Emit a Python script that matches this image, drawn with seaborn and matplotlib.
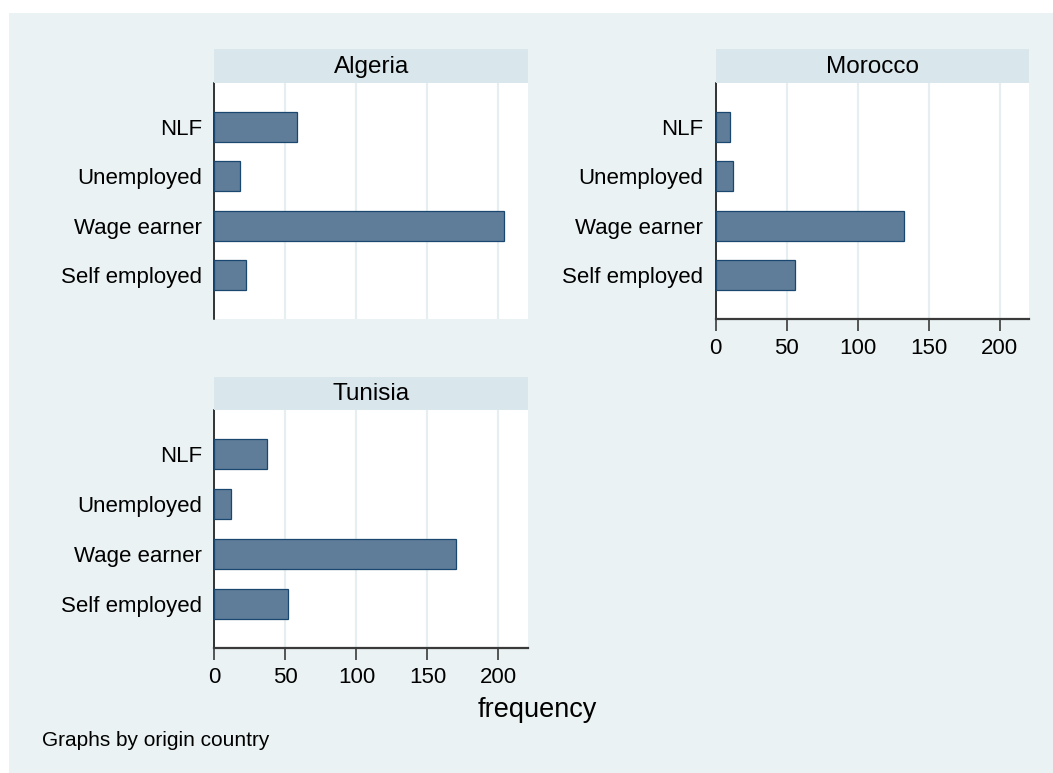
import matplotlib
matplotlib.use("Agg")
import matplotlib.pyplot as plt
import seaborn as sns
import pandas as pd
from matplotlib.patches import Rectangle

# ---- data ----
categories = ["NLF", "Unemployed", "Wage earner", "Self employed"]
countries = ["Algeria", "Morocco", "Tunisia"]
algeria = [58, 18, 204, 22]
morocco = [10, 12, 133, 56]
tunisia = [37, 12, 170, 52]
xticks = [0, 50, 100, 150, 200]

rows = []
for c, vals in zip(countries, [algeria, morocco, tunisia]):
    for cat, v in zip(categories, vals):
        rows.append({"country": c, "status": cat, "frequency": v})
df = pd.DataFrame(rows)

sns.set_theme(style="white")
plt.rcParams["font.family"] = ["Liberation Sans", "DejaVu Sans"]

W, H = 1053, 773
fig = plt.figure(figsize=(W / 100, H / 100), dpi=100)
fig.patch.set_facecolor("white")

BG = "#eaf2f3"
STRIP = "#d9e6eb"
FILL = "#5f7d99"
EDGE = "#1a476f"
GRID = "#e6eef1"

fig.patches.append(Rectangle((9 / W, 0), 1 - 9 / W, 1 - 13 / H,
                             transform=fig.transFigure, facecolor=BG,
                             edgecolor="none", zorder=-10))


def px_axes(x0, y0, x1, y1):
    return fig.add_axes([x0 / W, 1 - y1 / H, (x1 - x0) / W, (y1 - y0) / H])


panels = {
    "Algeria": dict(x0=214.3, x1=528.3, strip=(49, 83), plot=(83, 319), xaxis=False),
    "Morocco": dict(x0=715.7, x1=1029.3, strip=(49, 83), plot=(83, 319), xaxis=True),
    "Tunisia": dict(x0=214.3, x1=528.3, strip=(377, 410), plot=(410, 648), xaxis=True),
}

for c in countries:
    p = panels[c]
    ax = px_axes(p["x0"], p["plot"][0], p["x1"], p["plot"][1])
    ax.set_facecolor("white")
    sub = df[df["country"] == c]
    sns.barplot(data=sub, x="frequency", y="status", order=categories,
                orient="h", color=FILL, edgecolor=EDGE, linewidth=0.9,
                width=0.61, saturation=1, ax=ax, zorder=3)
    for patch in ax.patches:
        patch.set_facecolor(FILL)
    ax.set_xlim(0, 221)
    ax.set_ylim(3.88, -0.88)
    ax.set_xticks(xticks)
    ax.grid(axis="x", color=GRID, linewidth=1.6, zorder=0)
    ax.grid(axis="y", visible=False)
    ax.set_axisbelow(True)
    ax.set_xlabel("")
    ax.set_ylabel("")
    for s in ["top", "right"]:
        ax.spines[s].set_visible(False)
    ax.spines["left"].set_color("black")
    ax.spines["left"].set_linewidth(1.1)
    ax.tick_params(axis="y", length=0, pad=9, labelsize=16, colors="black")
    if p["xaxis"]:
        ax.spines["bottom"].set_color("#3a3a3a")
        ax.spines["bottom"].set_linewidth(1.6)
        ax.tick_params(axis="x", bottom=True, length=8.5, width=1.2,
                       color="#3a3a3a", labelsize=16, pad=5, labelcolor="black")
    else:
        ax.spines["bottom"].set_visible(False)
        ax.tick_params(axis="x", bottom=False, labelbottom=False)

    sax = px_axes(p["x0"], p["strip"][0], p["x1"], p["strip"][1])
    sax.set_facecolor(STRIP)
    sax.set_xticks([])
    sax.set_yticks([])
    for s in sax.spines.values():
        s.set_visible(False)
    sax.text(0.5, 0.48, c, ha="center", va="center", fontsize=17.5,
             color="black", transform=sax.transAxes)

fig.text(537 / W, 1 - 710 / H, "frequency", ha="center", va="center",
         fontsize=19.5, color="black")
fig.text(42 / W, 1 - 740 / H, "Graphs by origin country", ha="left",
         va="center", fontsize=15, color="black")

fig.savefig("out.png", dpi=100, facecolor=fig.get_facecolor())
